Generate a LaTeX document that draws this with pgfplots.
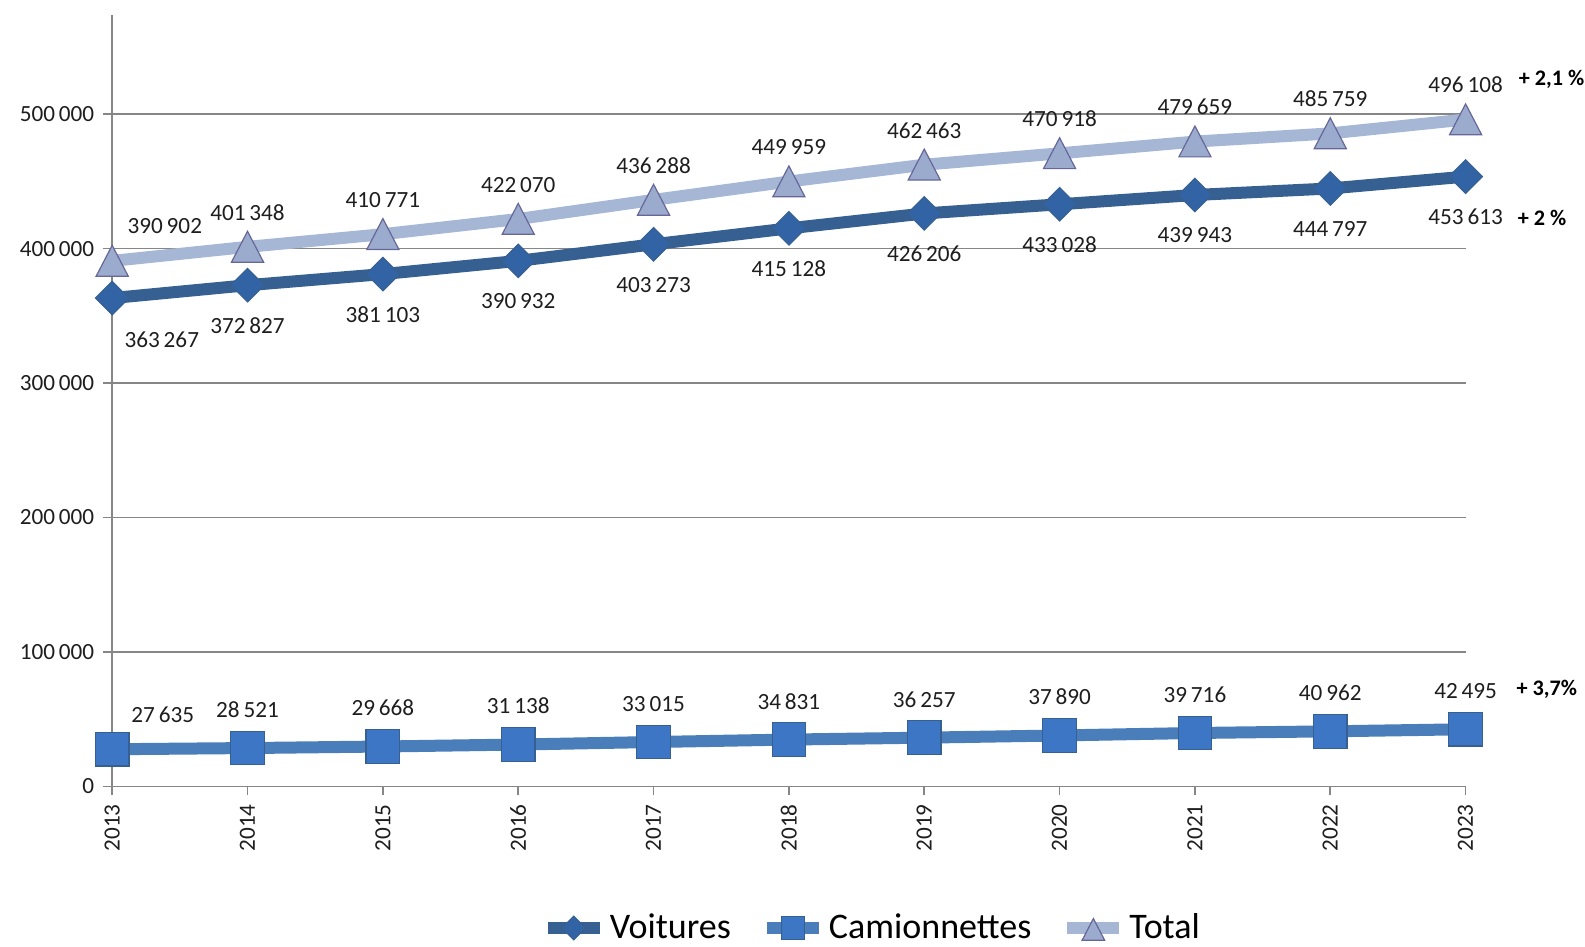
\documentclass[border=0pt]{standalone}
\usepackage{pgfplots}
\usepackage{pgfplotstable}
\usepackage{fontspec}
\setmainfont{Carlito}
\pgfplotsset{compat=1.18}

\definecolor{voitline}{RGB}{55,96,146}
\definecolor{voitmark}{RGB}{50,100,165}
\definecolor{camline}{RGB}{74,126,187}
\definecolor{cammark}{RGB}{60,118,196}
\definecolor{totline}{RGB}{166,183,214}
\definecolor{totmark}{RGB}{155,171,205}
\definecolor{gridgray}{RGB}{134,134,134}
\definecolor{txt}{RGB}{30,30,30}

% dx = 1 marks the first year, whose labels sit to the right of the point
\pgfplotstableread{
year voit   cam   tot    dx
2013 363267 27635 390902 1
2014 372827 28521 401348 0
2015 381103 29668 410771 0
2016 390932 31138 422070 0
2017 403273 33015 436288 0
2018 415128 34831 449959 0
2019 426206 36257 462463 0
2020 433028 37890 470918 0
2021 439943 39716 479659 0
2022 444797 40962 485759 0
2023 453613 42495 496108 0
}\data

\begin{document}
\begin{tikzpicture}
\begin{axis}[
    at={(0,0)}, anchor=south west,
    scale only axis,
    width=676.7pt, height=385.6pt,
    xmin=2013, xmax=2023,
    ymin=0, ymax=573700,
    clip=false,
    axis lines*=left,
    axis line style={draw=gridgray, line width=0.8pt},
    ymajorgrids,
    grid style={draw=gridgray, line width=0.8pt},
    tick align=outside,
    major tick length=4.5pt,
    tick style={draw=gridgray, line width=0.8pt},
    xtick={2013,...,2023},
    ytick={0,100000,200000,300000,400000,500000},
    scaled y ticks=false,
    /pgf/number format/assume math mode=true,
    /pgf/number format/.cd, fixed, precision=0, 1000 sep={\,}, /pgfplots/.cd,
    yticklabel style={font=\fontsize{11.6}{13}\selectfont, text=txt, xshift=-1pt},
    xticklabel style={font=\fontsize{11.6}{13}\selectfont, text=txt, rotate=90,
        anchor=east, xshift=-1pt, /pgf/number format/1000 sep={}},
    nodes near coords,
    visualization depends on={\thisrow{dx} \as \dx},
    every node near coord/.append style={font=\fontsize{11.6}{13}\selectfont,
        text=txt, anchor=center, inner sep=0pt},
    legend columns=3,
    legend style={at={(0.562,0)}, anchor=center, yshift=-70.8pt, draw=none,
        fill=none, font=\fontsize{18}{20}\selectfont, text=black,
        /tikz/every even column/.append style={column sep=13pt}},
    legend cell align=left,
    legend image code/.code={%
        \draw[mark repeat=2, mark phase=2, #1, every mark/.append style={scale=0.7}]
        plot coordinates {(0pt,0pt) (13pt,0pt) (26pt,0pt)};},
]
\addplot[draw=voitline, line width=6pt, mark=square*, mark size=5.9pt,
    mark options={rotate=45, fill=voitmark, draw=voitline, line width=0.6pt},
    every node near coord/.append style={xshift=\dx*24.8pt, yshift=-20.2pt-\dx*0.6pt}]
    table[x=year, y=voit] {\data};
\addlegendentry{Voitures}

\addplot[draw=camline, line width=6pt, mark=square*, mark size=8.4pt,
    mark options={fill=cammark, draw=voitline, line width=0.6pt},
    every node near coord/.append style={xshift=\dx*25.3pt, yshift=19.2pt-\dx*2pt}]
    table[x=year, y=cam] {\data};
\addlegendentry{Camionnettes}

\addplot[draw=totline, line width=6pt, mark=triangle*, mark size=10.3pt,
    mark options={fill=totmark, draw=gray!80!blue, line width=0.6pt, xscale=0.9, yshift=-2.5pt},
    every node near coord/.append style={xshift=\dx*26.3pt, yshift=19.7pt}]
    table[x=year, y=tot] {\data};
\addlegendentry{Total}

\node[font=\bfseries\fontsize{11.1}{13}\selectfont, text=black] at (axis cs:2023.635,526300) {+ 2,1 \%};
\node[font=\bfseries\fontsize{11.1}{13}\selectfont, text=black] at (axis cs:2023.565,422600) {+ 2 \%};
\node[font=\bfseries\fontsize{11.1}{13}\selectfont, text=black] at (axis cs:2023.6,72200) {+ 3,7\%};
\end{axis}
\pgfresetboundingbox
\path[use as bounding box] (-56.1pt,-79.9pt) rectangle (736.4pt,393.2pt);
\end{tikzpicture}
\end{document}
